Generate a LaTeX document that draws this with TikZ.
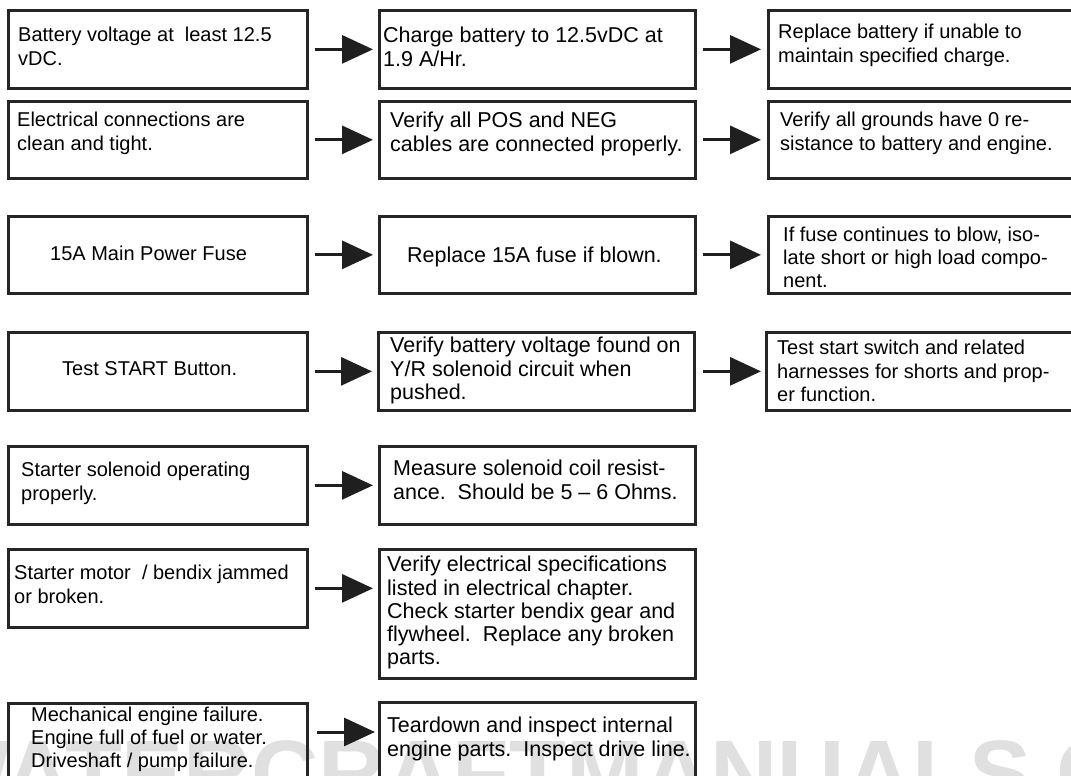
\documentclass[tikz,border=0pt]{standalone}
\usepackage{fontspec}
\setmainfont{Liberation Sans}
\usetikzlibrary{arrows.meta,calc}
\frenchspacing
\begin{document}
\begin{tikzpicture}[x=1pt,y=-1pt,
  box/.style={draw=black!85, line width=2.7pt, rectangle, inner sep=0pt, anchor=north west},
  txt/.style={inner sep=0pt, anchor=north west, align=left, font=\fontsize{20}{24}\selectfont,
              execute at begin node={\rule{0pt}{15pt}}},
  txtb/.style={txt, font=\fontsize{21.5}{23.3}\selectfont},
  txtc/.style={txt, font=\fontsize{20}{23.5}\selectfont},
  arr/.style={draw=black!88, line width=3pt, -{Triangle[length=31pt,width=28pt]}},
  wm/.style={inner sep=0pt, anchor=base west, text=black!12, font=\fontsize{93}{93}\selectfont\bfseries}]
\useasboundingbox (0,0) rectangle (1071,776);
\clip (0,0) rectangle (1071,776);
\fill[white] (0,0) rectangle (1071,776);

% watermark
\node[wm] (wm) at (-78,805) {WATERCRAFTMANUALS.COM};

% column 1 boxes
\node[box, minimum width=299pt, minimum height=78pt] (a1) at (7,9) {};
\node[box, minimum width=299pt, minimum height=77pt] (a2) at (7,100) {};
\node[box, minimum width=299pt, minimum height=77pt] (a3) at (7,215) {};
\node[box, minimum width=299pt, minimum height=78pt] (a4) at (7,331) {};
\node[box, minimum width=299pt, minimum height=78pt] (a5) at (7,445) {};
\node[box, minimum width=299pt, minimum height=78pt] (a6) at (7,548) {};
\node[box, minimum width=299pt, minimum height=90pt] (a7) at (7,702) {};

% column 2 boxes
\node[box, minimum width=316pt, minimum height=78pt] (b1) at (378,9) {};
\node[box, minimum width=316pt, minimum height=77pt] (b2) at (378,100) {};
\node[box, minimum width=316pt, minimum height=77pt] (b3) at (378,215) {};
\node[box, minimum width=316pt, minimum height=78pt] (b4) at (377,331) {};
\node[box, minimum width=316pt, minimum height=78pt] (b5) at (378,445) {};
\node[box, minimum width=316pt, minimum height=129pt] (b6) at (378,548) {};
\node[box, minimum width=316pt, minimum height=90pt] (b7) at (378,701) {};

% column 3 boxes
\node[box, minimum width=320pt, minimum height=78pt] (c1) at (767,9) {};
\node[box, minimum width=320pt, minimum height=77pt] (c2) at (767,100) {};
\node[box, minimum width=320pt, minimum height=77pt] (c3) at (767,215) {};
\node[box, minimum width=320pt, minimum height=78pt] (c4) at (765,331) {};

% texts column 1
\node[txt] (ta1) at (18,27) {Battery voltage at\ \ least 12.5\\vDC.};
\node[txt] (ta2) at (17,112) {Electrical connections are\\clean and tight.};
\node[txt] (ta3) at (50,245) {15A Main Power Fuse};
\node[txt] (ta4) at (62,360) {Test START Button.};
\node[txt] (ta5) at (21,462) {Starter solenoid operating\\properly.};
\node[txt] (ta6) at (14,565) {Starter motor\ \ / bendix jammed\\or broken.};
\node[txt, font=\fontsize{20}{23}\selectfont] (ta7) at (31,707) {Mechanical engine failure.\\Engine full of fuel or water.\\Driveshaft / pump failure.};

% texts column 2
\node[txtb] (tb1) at (383,27) {Charge battery to 12.5vDC at\\1.9 A/Hr.};
\node[txtb] (tb2) at (390,112) {Verify all POS and NEG\\cables are connected properly.};
\node[txtb] (tb3) at (407,247) {Replace 15A fuse if blown.};
\node[txtb] (tb4) at (390,337) {Verify battery voltage found on\\Y/R solenoid circuit when\\pushed.};
\node[txtb] (tb5) at (393,460) {Measure solenoid coil resist-\\ance.\ \ Should be 5 – 6 Ohms.};
\node[txtb] (tb6) at (387,556) {Verify electrical specifications\\listed in electrical chapter.\\Check starter bendix gear and\\flywheel.\ \ Replace any broken\\parts.};
\node[txtb] (tb7) at (387,717) {Teardown and inspect internal\\engine parts.\ \ Inspect drive line.};

% texts column 3
\node[txtc] (tc1) at (778,24) {Replace battery if unable to\\maintain specified charge.};
\node[txtc] (tc2) at (780,112) {Verify all grounds have 0 re-\\sistance to battery and engine.};
\node[txtc, font=\fontsize{20}{23}\selectfont] (tc3) at (783,227) {If fuse continues to blow, iso-\\late short or high load compo-\\nent.};
\node[txtc] (tc4) at (777,340) {Test start switch and related\\harnesses for shorts and prop-\\er function.};

% arrows column 1 -> 2
\foreach \r in {1,...,6} {
  \draw[arr] ($(a\r.east)+(6,0)$) -- ($(a\r.east -| b\r.west)+(-5,0)$);
}
\draw[arr] ($(a7.north east)+(8,30)$) -- ($(a7.north east -| b7.west)+(-3,30)$);

% arrows column 2 -> 3
\draw[arr] ($(b1.east)+(6,0)$) -- ($(b1.east -| c1.west)+(-6,0)$);
\draw[arr] ($(b2.east)+(6,0)$) -- ($(b2.east -| c2.west)+(-6,0)$);
\draw[arr] ($(b3.east)+(6,0)$) -- ($(b3.east -| c3.west)+(-6,0)$);
\draw[arr] ($(b4.east)+(7,0)$) -- ($(b4.east -| c4.west)+(-4,0)$);
\end{tikzpicture}
\end{document}
